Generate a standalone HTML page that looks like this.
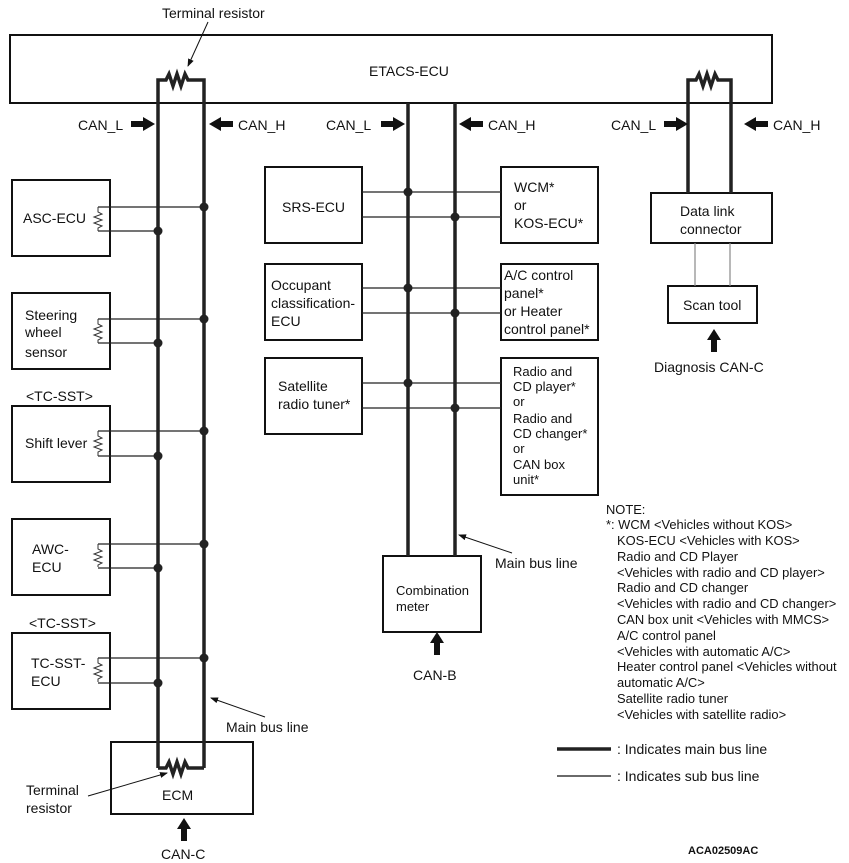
<!DOCTYPE html>
<html><head><meta charset="utf-8"><style>
html,body{margin:0;padding:0;background:#fff;}
svg{display:block;font-family:"Liberation Sans",Arial,sans-serif;}
text{fill:#111;}
</style></head><body>
<svg width="849" height="863" viewBox="0 0 849 863" xmlns="http://www.w3.org/2000/svg">
<defs>
<marker id="ah" markerWidth="8" markerHeight="8" refX="7" refY="4" orient="auto" markerUnits="userSpaceOnUse"><path d="M0,1 L8,4 L0,7 Z" fill="#111"/></marker>
</defs>
<g fill="none" stroke="#111" stroke-width="2">
<rect x="10" y="35" width="762" height="68"/>
<rect x="111" y="742" width="142" height="72"/>
<rect x="12" y="180" width="98" height="76"/>
<rect x="12" y="293" width="98" height="76"/>
<rect x="12" y="406" width="98" height="76"/>
<rect x="12" y="519" width="98" height="76"/>
<rect x="12" y="633" width="98" height="76"/>
<rect x="265" y="167" width="97" height="76"/>
<rect x="501" y="167" width="97" height="76"/>
<rect x="265" y="264" width="97" height="76"/>
<rect x="501" y="264" width="97" height="76"/>
<rect x="265" y="358" width="97" height="76"/>
<rect x="501" y="358" width="97" height="137"/>
<rect x="383" y="556" width="98" height="76"/>
<rect x="651" y="193" width="121" height="50"/>
<rect x="668" y="286" width="89" height="37"/>
</g>
<g stroke="#222" stroke-width="1.2">
<line x1="98" y1="207" x2="204" y2="207"/><line x1="98" y1="231" x2="158" y2="231"/>
<line x1="98" y1="319" x2="204" y2="319"/><line x1="98" y1="343" x2="158" y2="343"/>
<line x1="98" y1="431" x2="204" y2="431"/><line x1="98" y1="456" x2="158" y2="456"/>
<line x1="98" y1="544" x2="204" y2="544"/><line x1="98" y1="568" x2="158" y2="568"/>
<line x1="98" y1="658" x2="204" y2="658"/><line x1="98" y1="683" x2="158" y2="683"/>
<line x1="362" y1="192" x2="501" y2="192"/><line x1="362" y1="217" x2="501" y2="217"/>
<line x1="362" y1="288" x2="501" y2="288"/><line x1="362" y1="313" x2="501" y2="313"/>
<line x1="362" y1="383" x2="501" y2="383"/><line x1="362" y1="408" x2="501" y2="408"/>
<line x1="695" y1="243" x2="695" y2="286" stroke="#888"/><line x1="730" y1="243" x2="730" y2="286" stroke="#888"/>
<line x1="557" y1="776" x2="611" y2="776" stroke="#111"/>
</g>
<g fill="none" stroke="#333" stroke-width="1">
<path d="M98,207 v5 l4,2 l-8,3 l8,3 l-8,3 l8,3 l-4,2 v3"/>
<path d="M98,319 v5 l4,2 l-8,3 l8,3 l-8,3 l8,3 l-4,2 v3"/>
<path d="M98,431 v5 l4,2 l-8,3 l8,3 l-8,3 l8,3 l-4,2 v4"/>
<path d="M98,544 v5 l4,2 l-8,3 l8,3 l-8,3 l8,3 l-4,2 v2"/>
<path d="M98,658 v5 l4,2 l-8,3 l8,3 l-8,3 l8,3 l-4,2 v3"/>
</g>
<g fill="none" stroke="#222" stroke-width="3.5">
<path d="M158,768 V80 H166 l3,-6 l4,12 l4,-12 l4,12 l4,-12 l3,6 H204 V768"/>
<path d="M158,768 H166 l3,-6 l4,12 l4,-12 l4,12 l4,-12 l3,6 H204"/>
<line x1="408" y1="103" x2="408" y2="556"/><line x1="455" y1="103" x2="455" y2="556"/>
<path d="M688,193 V80 H696 l3,-6 l4,12 l4,-12 l4,12 l4,-12 l3,6 H731 V193"/>
<line x1="557" y1="749" x2="611" y2="749"/>
</g>
<g fill="#222">
<circle cx="204" cy="207" r="4.5"/><circle cx="158" cy="231" r="4.5"/>
<circle cx="204" cy="319" r="4.5"/><circle cx="158" cy="343" r="4.5"/>
<circle cx="204" cy="431" r="4.5"/><circle cx="158" cy="456" r="4.5"/>
<circle cx="204" cy="544" r="4.5"/><circle cx="158" cy="568" r="4.5"/>
<circle cx="204" cy="658" r="4.5"/><circle cx="158" cy="683" r="4.5"/>
<circle cx="408" cy="192" r="4.5"/><circle cx="455" cy="217" r="4.5"/>
<circle cx="408" cy="288" r="4.5"/><circle cx="455" cy="313" r="4.5"/>
<circle cx="408" cy="383" r="4.5"/><circle cx="455" cy="408" r="4.5"/>
</g>
<g fill="#111">
<polygon points="131,121 143,121 143,117 155,124 143,131 143,127 131,127"/>
<polygon points="233,121 221,121 221,117 209,124 221,131 221,127 233,127"/>
<polygon points="381,121 393,121 393,117 405,124 393,131 393,127 381,127"/>
<polygon points="483,121 471,121 471,117 459,124 471,131 471,127 483,127"/>
<polygon points="664,121 676,121 676,117 688,124 676,131 676,127 664,127"/>
<polygon points="768,121 756,121 756,117 744,124 756,131 756,127 768,127"/>
<polygon points="181,841 181,829 177,829 184,818 191,829 187,829 187,841"/>
<polygon points="434,655 434,643 430,643 437,632 444,643 440,643 440,655"/>
<polygon points="711,352 711,340 707,340 714,329 721,340 717,340 717,352"/>
</g>
<g stroke="#111" stroke-width="1" fill="none">
<line x1="208" y1="22" x2="188" y2="66" marker-end="url(#ah)"/>
<line x1="265" y1="717" x2="211" y2="698" marker-end="url(#ah)"/>
<line x1="88" y1="796" x2="167" y2="773" marker-end="url(#ah)"/>
<line x1="512" y1="553" x2="459" y2="535" marker-end="url(#ah)"/>
</g>
<g font-size="14">
<text x="162" y="18">Terminal resistor</text>
<text x="369" y="76">ETACS-ECU</text>
<text x="78" y="130">CAN_L</text><text x="238" y="130">CAN_H</text>
<text x="326" y="130">CAN_L</text><text x="488" y="130">CAN_H</text>
<text x="611" y="130">CAN_L</text><text x="773" y="130">CAN_H</text>
<text x="23" y="223">ASC-ECU</text>
<text x="25" y="320">Steering</text><text x="25" y="337">wheel</text><text x="25" y="357">sensor</text>
<text x="26" y="401">&lt;TC-SST&gt;</text>
<text x="25" y="448">Shift lever</text>
<text x="32" y="554">AWC-</text><text x="32" y="572">ECU</text>
<text x="29" y="628">&lt;TC-SST&gt;</text>
<text x="31" y="668">TC-SST-</text><text x="31" y="686">ECU</text>
<text x="162" y="800">ECM</text>
<text x="26" y="795">Terminal</text><text x="26" y="813">resistor</text>
<text x="161" y="859">CAN-C</text>
<text x="226" y="732">Main bus line</text>
<text x="282" y="212">SRS-ECU</text>
<text x="514" y="192">WCM*</text><text x="514" y="210">or</text><text x="514" y="228">KOS-ECU*</text>
<text x="271" y="290">Occupant</text><text x="271" y="308">classification-</text><text x="271" y="326">ECU</text>
<text x="504" y="280">A/C control</text><text x="504" y="298">panel*</text><text x="504" y="316">or Heater</text><text x="504" y="334">control panel*</text>
<text x="278" y="391">Satellite</text><text x="278" y="409">radio tuner*</text>
<text x="413" y="680">CAN-B</text>
<text x="495" y="568">Main bus line</text>
<text x="680" y="216">Data link</text><text x="680" y="234">connector</text>
<text x="683" y="310">Scan tool</text>
<text x="654" y="372">Diagnosis CAN-C</text>
<text x="617" y="754">: Indicates main bus line</text>
<text x="617" y="781">: Indicates sub bus line</text>
</g>
<g font-size="13">
<text x="513" y="376">Radio and</text><text x="513" y="391">CD player*</text><text x="513" y="406">or</text>
<text x="513" y="423">Radio and</text><text x="513" y="438">CD changer*</text><text x="513" y="453">or</text>
<text x="513" y="469">CAN box</text><text x="513" y="484">unit*</text>
<text x="396" y="595">Combination</text><text x="396" y="611">meter</text>
</g>
<g font-size="12.9">
<text x="606" y="514">NOTE:</text>
<text x="606" y="529">*: WCM &lt;Vehicles without KOS&gt;</text>
<text x="617" y="545">KOS-ECU &lt;Vehicles with KOS&gt;</text>
<text x="617" y="561">Radio and CD Player</text>
<text x="617" y="577">&lt;Vehicles with radio and CD player&gt;</text>
<text x="617" y="592">Radio and CD changer</text>
<text x="617" y="608">&lt;Vehicles with radio and CD changer&gt;</text>
<text x="617" y="624">CAN box unit &lt;Vehicles with MMCS&gt;</text>
<text x="617" y="640">A/C control panel</text>
<text x="617" y="656">&lt;Vehicles with automatic A/C&gt;</text>
<text x="617" y="671">Heater control panel &lt;Vehicles without</text>
<text x="617" y="687">automatic A/C&gt;</text>
<text x="617" y="703">Satellite radio tuner</text>
<text x="617" y="719">&lt;Vehicles with satellite radio&gt;</text>
</g>
<text x="688" y="854" font-size="11" font-weight="bold">ACA02509AC</text>
</svg>
</body></html>
